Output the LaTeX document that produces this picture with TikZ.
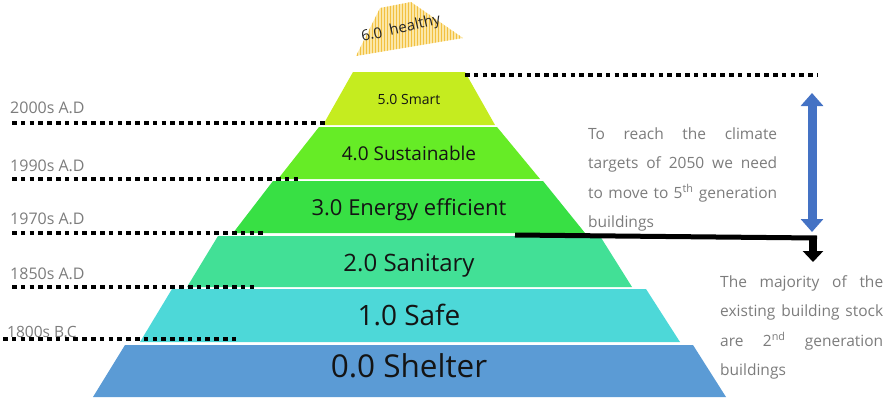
\documentclass[tikz,border=0pt]{standalone}
\usepackage{fontspec}
\setmainfont{Open Sans}
\usetikzlibrary{arrows.meta,patterns}
\definecolor{cLv}{HTML}{C5EC1F}
\definecolor{cLiv}{HTML}{66EC26}
\definecolor{cLiii}{HTML}{38E044}
\definecolor{cLii}{HTML}{42E096}
\definecolor{cLi}{HTML}{4DD8D8}
\definecolor{cL0}{HTML}{5B9BD5}
\definecolor{greytxt}{HTML}{7C7C7C}
\definecolor{ylight}{HTML}{FBE7A8}
\definecolor{ystripe}{HTML}{F2C040}
\definecolor{arrblue}{HTML}{4472C4}
\newcommand{\spreadline}[1]{\leavevmode\makebox[\linewidth][l]{#1}}
\begin{document}
\begin{tikzpicture}[x=1pt,y=-1pt,
  lvltext/.style={anchor=base,inner sep=0pt,text=black!92},
  datetext/.style={anchor=base west,inner sep=0pt,text=greytxt,font=\fontsize{16}{19}\selectfont},
  dotline/.style={line width=4.5pt,dash pattern=on 4.5pt off 4.3pt},
  notetext/.style={anchor=base west,inner sep=0pt,text=greytxt,font=\fontsize{15.5}{29.5}\selectfont,align=left}
]
\useasboundingbox (0,0) rectangle (886,399);

% pyramid layers
\fill[cL0]  (125,345) -- (693,345) -- (726,397) -- (93,397) -- cycle;
\fill[cLi]  (172,289) -- (646,289) -- (680,342) -- (140,342) -- cycle;
\fill[cLii] (218,236) -- (600,236) -- (632,287) -- (187,287) -- cycle;
\fill[cLiii](273,181) -- (543,181) -- (585,233) -- (233,233) -- cycle;
\fill[cLiv] (319,127) -- (497,127) -- (540,179) -- (278,179) -- cycle;
\fill[cLv]  (353,72) -- (465,72) -- (495,125) -- (323,125) -- cycle;

% top "healthy" piece
\fill[ylight] (380,8) -- (411,2) -- (463,38) -- (356,56) -- cycle;
\fill[pattern=vertical lines,pattern color=ystripe] (380,8) -- (411,2) -- (463,38) -- (356,56) -- cycle;
\node[rotate=13,inner sep=0pt,text=black!85,font=\fontsize{15}{18}\selectfont] (l6) at (401,29) {6.0\ \ healthy};

% level labels
\node[lvltext,font=\fontsize{14}{17}\selectfont] (l5) at (409,104) {5.0 Smart};
\node[lvltext,font=\fontsize{19}{22}\selectfont] (l4) at (409,160) {4.0 Sustainable};
\node[lvltext,font=\fontsize{22}{26}\selectfont] (l3) at (409,215) {3.0 Energy efficient};
\node[lvltext,font=\fontsize{24}{28}\selectfont] (l2) at (409,271) {2.0 Sanitary};
\node[lvltext,font=\fontsize{28}{32}\selectfont] (l1) at (409,325) {1.0 Safe};
\node[lvltext,font=\fontsize{31.5}{36}\selectfont] (l0) at (409,377) {0.0 Shelter};

% date labels
\node[datetext] (d5) at (10,113) {2000s A.D};
\node[datetext] (d4) at (10,171) {1990s A.D};
\node[datetext] (d3) at (10,224) {1970s A.D};
\node[datetext] (d2) at (10,279) {1850s A.D};
\node[datetext,font=\fontsize{15.5}{19}\selectfont] (d1) at (7,337) {1800s B.C};

% dotted separators
\coordinate (s5a) at (12,123);  \coordinate (s5b) at (328,123);
\coordinate (s4a) at (12,179);  \coordinate (s4b) at (300,179);
\coordinate (s3a) at (12,233);  \coordinate (s3b) at (265,233);
\coordinate (s2a) at (12,287);  \coordinate (s2b) at (256,287);
\coordinate (s1a) at (3,339);   \coordinate (s1b) at (238,339);
\coordinate (s6a) at (465,75);  \coordinate (s6b) at (818,75);
\draw[dotline] (s5a) -- (s5b);
\draw[dotline] (s4a) -- (s4b);
\draw[dotline] (s3a) -- (s3b);
\draw[dotline] (s2a) -- (s2b);
\draw[dotline] (s1a) -- (s1b);
\draw[dotline] (s6a) -- (s6b);

% blue double arrow
\coordinate (bt) at (812,93);
\coordinate (bb) at (812,232);
\draw[arrblue,line width=9pt,{Triangle[width=22pt,length=13pt]}-{Triangle[width=22pt,length=13pt]}] (bt) -- (bb);

% black elbow arrow
\coordinate (ks) at (515,235);
\coordinate (ke) at (817,238);
\coordinate (kv) at (813,236);
\coordinate (kt) at (813,262);
\draw[line width=5pt] (ks) -- (ke);
\draw[line width=8pt,-{Triangle[width=20pt,length=11pt]}] (kv) -- (kt);

% notes
\node[notetext,text width=189pt] (n1) at (588,139)
 {\spreadline{To\hfill reach\hfill the\hfill climate}\\
  \spreadline{targets\hfill of\hfill 2050\hfill we\hfill need}\\
  \spreadline{to\hfill move\hfill to\hfill 5\textsuperscript{th}\hfill generation}\\
  buildings};
\node[notetext,text width=163pt] (n2) at (720,287)
 {\spreadline{The\hfill majority\hfill of\hfill the}\\
  \spreadline{existing\hfill building\hfill stock}\\
  \spreadline{are\hfill 2\textsuperscript{nd}\hfill generation}\\
  buildings};
\end{tikzpicture}
\end{document}
